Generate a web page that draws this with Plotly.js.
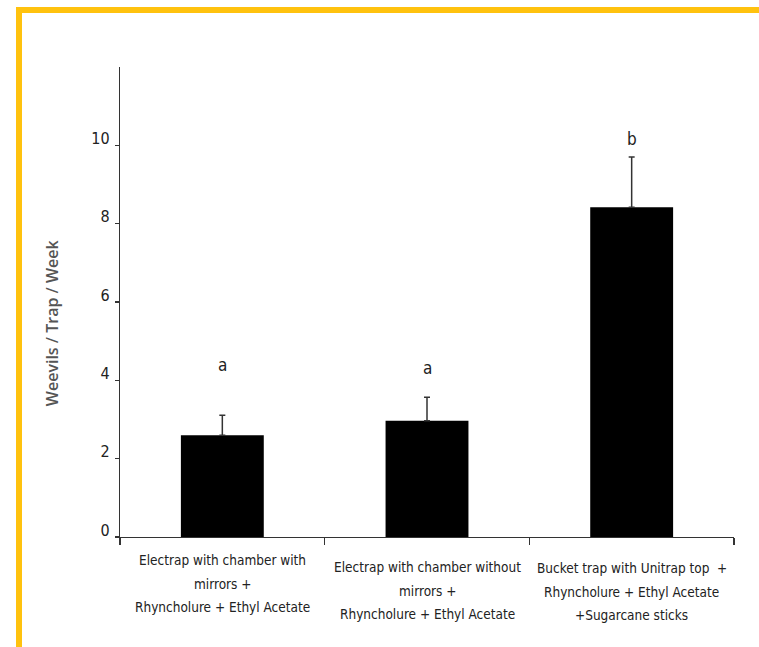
<!DOCTYPE html>
<html>
<head>
<meta charset="utf-8">
<script src="https://cdn.plot.ly/plotly-3.0.1.min.js"></script>
<style>
  html, body { margin: 0; padding: 0; background: #fff; }
  #wrap { position: relative; width: 759px; height: 647px; overflow: hidden; }
  #chart { width: 759px; height: 647px; }
  #frame { position: absolute; left: 16px; top: 7px; width: 760px; height: 700px;
           border: 6px solid #FFC20E; box-sizing: border-box; pointer-events: none; }
</style>
</head>
<body>
<div id="wrap">
  <div id="chart"></div>
  <div id="frame"></div>
</div>
<script>
// ---- data ----
const categories = [
  "Electrap with chamber with<br>mirrors +<br>Rhyncholure + Ethyl Acetate",
  "Electrap with chamber without<br>mirrors +<br>Rhyncholure + Ethyl Acetate",
  "Bucket trap with Unitrap top  +<br>Rhyncholure + Ethyl Acetate<br>+Sugarcane sticks"
];
const means = [2.60, 2.97, 8.42];
const errors = [0.51, 0.60, 1.28];
const sigLetters = ["a", "a", "b"];
const sigLetterY = [4.39, 4.31, 10.16];
const yTickVals = [0, 2, 4, 6, 8, 10];
const yTitle = "Weevils / Trap / Week";

const narrow = "'DejaVu Sans Condensed', 'Liberation Sans Narrow', sans-serif";

const trace = {
  type: "bar",
  x: categories,
  y: means,
  width: 0.405,
  marker: { color: "#000000", line: { width: 0 } },
  error_y: {
    type: "data",
    symmetric: false,
    array: errors,
    arrayminus: errors.map(() => 0),
    color: "#333333",
    thickness: 1.5,
    width: 3
  },
  hoverinfo: "x+y"
};

const annotations = sigLetters.map((t, i) => ({
  x: categories[i], y: sigLetterY[i], xref: "x", yref: "y",
  text: t, showarrow: false,
  font: { family: narrow, size: 17, color: "#222222" }
}));

// category labels, one annotation per line so the line spacing matches
const firstLineOffset = [23, 30, 31];
const lineGap = 23.5;
categories.forEach((c, i) => {
  c.split("<br>").forEach((line, k) => {
    annotations.push({
      x: c, y: 0, xref: "x", yref: "y",
      text: line, showarrow: false,
      xanchor: "center", yanchor: "middle",
      yshift: -(firstLineOffset[i] + k * lineGap),
      font: { family: narrow, size: 13.5, color: "#222222" }
    });
  });
});

annotations.push({
  xref: "paper", yref: "paper",
  x: -0.1107, y: 0.455,
  xanchor: "center", yanchor: "middle",
  text: yTitle, textangle: -90, showarrow: false,
  font: { family: "'Open Sans', sans-serif", size: 16, color: "#555555", weight: 600 }
});

const layout = {
  width: 759, height: 647,
  margin: { l: 120, r: 25, t: 67, b: 110 },
  paper_bgcolor: "#ffffff",
  plot_bgcolor: "#ffffff",
  showlegend: false,
  xaxis: {
    type: "category",
    range: [-0.5, 2.5],
    showline: true, linecolor: "#333333", linewidth: 1.2,
    ticks: "outside", tickson: "boundaries", ticklen: 7, tickcolor: "#333333", tickwidth: 1.2,
    showgrid: false, zeroline: false,
    showticklabels: false
  },
  yaxis: {
    range: [0, 12],
    tickvals: yTickVals,
    ticktext: yTickVals.map(String),
    showline: true, linecolor: "#333333", linewidth: 1.2,
    ticks: "outside", ticklen: 4, tickcolor: "#333333", tickwidth: 1.2,
    showgrid: false, zeroline: false,
    tickfont: { family: narrow, size: 16, color: "#222222" },
    ticklabelshift: -7,
    ticklabelstandoff: 2
  },
  annotations: annotations
};

Plotly.newPlot("chart", [trace], layout, { displayModeBar: false, staticPlot: true });
</script>
</body>
</html>
